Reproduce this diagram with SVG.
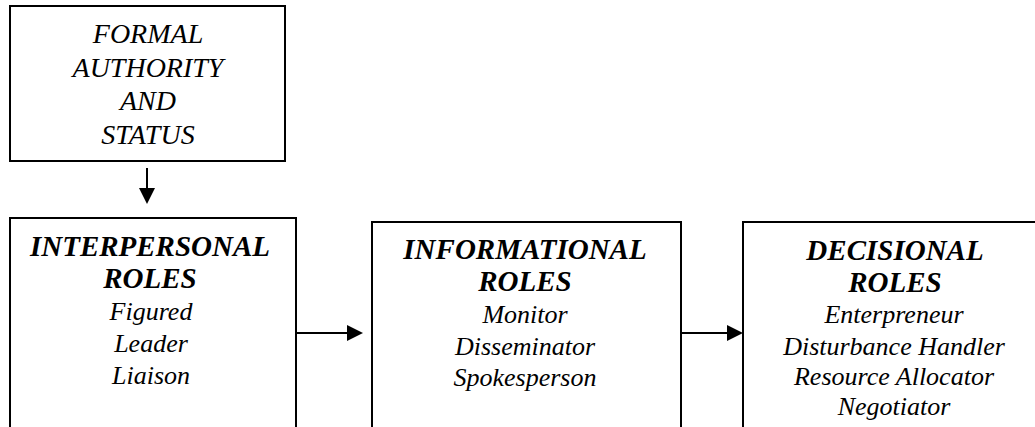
<svg xmlns="http://www.w3.org/2000/svg" width="1035" height="427" viewBox="0 0 1035 427">
  <style>
    .box { fill: #ffffff; stroke: #000000; stroke-width: 2; }
    .conn { stroke: #000000; stroke-width: 2; fill: none; }
    text { font-family: "Liberation Serif", "Times New Roman", serif; font-style: italic; fill: #000000; text-anchor: middle; }
    .top { font-size: 28px; }
    .head { font-size: 29px; font-weight: bold; }
    .item { font-size: 26px; }
  </style>
  <defs>
    <marker id="arrow" markerUnits="userSpaceOnUse" markerWidth="18" markerHeight="18" refX="0" refY="8" orient="auto">
      <path d="M0,0 L16,8 L0,16 z" fill="#000000"/>
    </marker>
  </defs>
  <rect x="0" y="0" width="1035" height="427" fill="#ffffff"/>

  <g id="formal-authority">
    <rect class="box" x="10" y="6" width="275" height="155"/>
    <text class="top" x="148" y="43">FORMAL</text>
    <text class="top" x="148" y="77">AUTHORITY</text>
    <text class="top" x="148" y="110">AND</text>
    <text class="top" x="148" y="144">STATUS</text>
  </g>

  <g id="interpersonal-roles">
    <rect class="box" x="10" y="218" width="286" height="260"/>
    <text class="head" x="150" y="256">INTERPERSONAL</text>
    <text class="head" x="150" y="288">ROLES</text>
    <text class="item" x="151" y="320">Figured</text>
    <text class="item" x="151" y="352">Leader</text>
    <text class="item" x="151" y="384">Liaison</text>
  </g>

  <g id="informational-roles">
    <rect class="box" x="372" y="222" width="309" height="260"/>
    <text class="head" x="525" y="259">INFORMATIONAL</text>
    <text class="head" x="525" y="291">ROLES</text>
    <text class="item" x="525" y="323">Monitor</text>
    <text class="item" x="525" y="355">Disseminator</text>
    <text class="item" x="525" y="386">Spokesperson</text>
  </g>

  <g id="decisional-roles">
    <rect class="box" x="743" y="222" width="310" height="260"/>
    <text class="head" x="895" y="260">DECISIONAL</text>
    <text class="head" x="895" y="292">ROLES</text>
    <text class="item" x="894" y="323">Enterpreneur</text>
    <text class="item" x="894" y="355">Disturbance Handler</text>
    <text class="item" x="894" y="385">Resource Allocator</text>
    <text class="item" x="894" y="415">Negotiator</text>
  </g>

  <g id="connectors">
    <line class="conn" x1="147" y1="168" x2="147" y2="188" marker-end="url(#arrow)"/>
    <line class="conn" x1="297" y1="333" x2="347" y2="333" marker-end="url(#arrow)"/>
    <line class="conn" x1="682" y1="333" x2="727" y2="333" marker-end="url(#arrow)"/>
  </g>
</svg>
